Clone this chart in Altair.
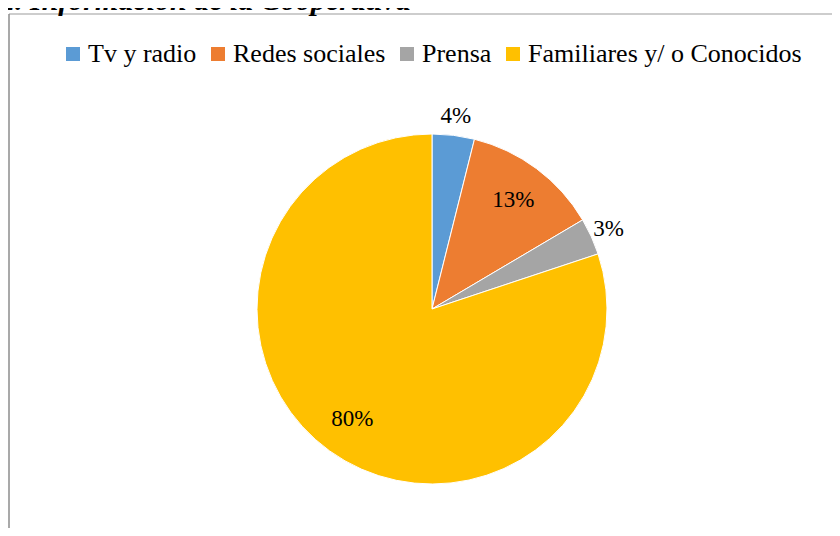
import math
import altair as alt
import pandas as pd

# Data
categories = ["Tv y radio", "Redes sociales", "Prensa", "Familiares y/ o Conocidos"]
values = [3.9, 12.6, 3.4, 80.1]
colors = ["#5B9BD5", "#ED7D31", "#A5A5A5", "#FFC000"]
title_text = "2. Información de la Cooperativa"

df = pd.DataFrame({"idx": list(range(len(categories))), "cat": categories, "value": values})
total = float(sum(values))

W, H = 823, 514
CX, CY = 423, 295  # pie centre in view coordinates
R = 175
FONT = "'Times New Roman', 'Liberation Serif', Times, serif"

theta_scale = alt.Scale(domain=[0, total], range=[0, 2 * math.pi])

base = (
    alt.Chart(df)
    .transform_window(cum="sum(value)", sort=[alt.SortField("idx")], frame=[None, 0])
    .transform_calculate(
        start="datum.cum - datum.value",
        mid="datum.cum - datum.value / 2",
        label="format(round(datum.value), 'd') + '%'",
    )
)

arcs = base.mark_arc(outerRadius=R, stroke="white", strokeWidth=1).encode(
    theta=alt.Theta("start:Q", scale=theta_scale),
    theta2="cum:Q",
    color=alt.Color(
        "cat:N",
        scale=alt.Scale(domain=categories, range=colors),
        legend=alt.Legend(
            title=None,
            orient="none",
            legendX=51,
            legendY=27,
            direction="horizontal",
            columns=4,
            symbolType="square",
            symbolSize=196,
            symbolStrokeWidth=0,
            labelFont=FONT,
            labelFontSize=26,
            labelColor="#000000",
            labelOffset=2,
            labelLimit=0,
            columnPadding=8,
        ),
    ),
    order=alt.Order("idx:Q"),
    x=alt.value(CX),
    y=alt.value(CY),
)

inner = base.transform_filter("datum.value >= 10").mark_text(
    radius=136, font=FONT, fontSize=23, color="#000000", align="center", baseline="middle"
).encode(
    theta=alt.Theta("mid:Q", scale=theta_scale),
    text="label:N",
    x=alt.value(CX),
    y=alt.value(CY),
)

outer = base.transform_filter("datum.value < 10").mark_text(
    radius=194, font=FONT, fontSize=23, color="#000000", align="center", baseline="middle"
).encode(
    theta=alt.Theta("mid:Q", scale=theta_scale),
    text="label:N",
    x=alt.value(CX),
    y=alt.value(CY),
)

frame_df = pd.DataFrame({"k": [0]})
top_line = alt.Chart(frame_df).mark_rule(color="#BDBDBD", strokeWidth=1.5).encode(
    x=alt.value(0), x2=alt.value(W), y=alt.value(0)
)
left_line = alt.Chart(frame_df).mark_rule(color="#8C8C8C", strokeWidth=1.5).encode(
    x=alt.value(0), y=alt.value(0), y2=alt.value(H)
)

title = alt.Chart(pd.DataFrame({"t": [title_text]})).mark_text(
    font=FONT, fontSize=30, fontWeight="bold", fontStyle="italic",
    align="left", baseline="alphabetic", color="#000000",
).encode(text="t:N", x=alt.value(-9), y=alt.value(-4))

chart = (
    alt.layer(top_line, left_line, arcs, inner, outer, title)
    .properties(
        width=W,
        height=H,
        autosize=alt.AutoSizeParams(type="none"),
        padding={"left": 1, "top": 6, "right": 0, "bottom": 0},
    )
    .configure_view(stroke=None)
)

chart.save("out.html", embed_options={"renderer": "svg", "actions": False})
